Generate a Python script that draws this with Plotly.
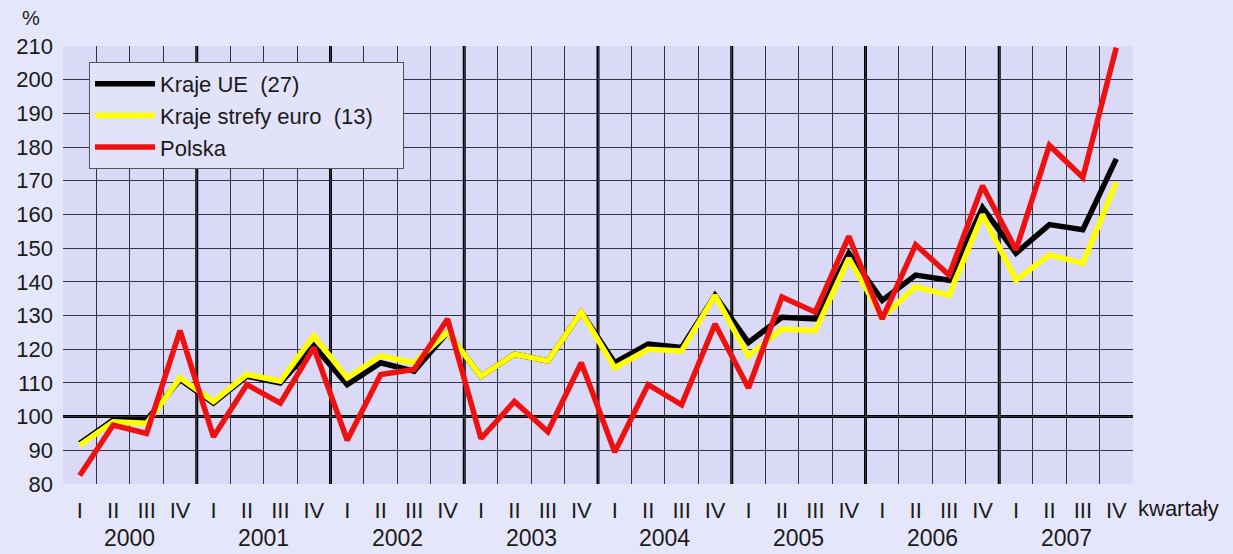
import plotly.graph_objects as go

# Quarterly index values, % (2000 I .. 2007 IV)
years = [2000, 2001, 2002, 2003, 2004, 2005, 2006, 2007]
quarters = ["I", "II", "III", "IV"]

ue27 = [92, 99, 99, 111, 104, 112, 110, 121,
        109.5, 116, 113.5, 125, 112, 118.5, 116.5, 131,
        116, 121.5, 120.5, 136, 122, 129.5, 129, 148.5,
        134.5, 142, 140.5, 162, 148.5, 157, 155.5, 176.5]
euro13 = [91.5, 98.5, 98, 111.5, 104.5, 112.5, 110.5, 124,
          111.5, 118, 116, 125, 112, 118.5, 116.5, 131,
          114.5, 120, 119.5, 136, 118, 126, 125.5, 147,
          129.5, 138.5, 136, 160, 140.5, 148, 145.5, 169.5]
polska = [82.5, 97.5, 95, 125.5, 94, 109.5, 104, 120.5,
          93, 112.5, 114, 129, 93.5, 104.5, 95.5, 116,
          89.5, 109.5, 103.5, 127.5, 108.5, 135.5, 131, 153.5,
          129, 151, 142, 168.5, 149.5, 180.5, 171, 209.5]

series = [
    ("Kraje UE  (27)", ue27, "#000000"),
    ("Kraje strefy euro  (13)", euro13, "#ffff00"),
    ("Polska", polska, "#ee1111"),
]

n = len(years) * len(quarters)
xs = list(range(n))
qlabels = [quarters[i % 4] for i in range(n)]

FONT = "Liberation Sans, Arial, sans-serif"
TXT = "#1a1a1a"

fig = go.Figure()
for name, vals, col in series:
    fig.add_trace(go.Scatter(
        x=xs, y=vals, name=name + "\u00a0\u00a0\u00a0\u00a0", mode="lines",
        line=dict(color=col, width=5.5),
        cliponaxis=True,
    ))

# thick vertical separators between years
shapes = []
for k in range(1, len(years)):
    shapes.append(dict(type="line", xref="x", yref="paper",
                       x0=4 * k - 0.5, x1=4 * k - 0.5, y0=0, y1=1,
                       line=dict(color="#000000", width=3), layer="below"))
# reference level 100
shapes.append(dict(type="line", xref="paper", yref="y",
                   x0=0, x1=1, y0=100, y1=100,
                   line=dict(color="#000000", width=3), layer="below"))

annotations = []
for k, yr in enumerate(years):
    annotations.append(dict(x=4 * k + 1.5, y=0, xref="x", yref="paper",
                            yshift=-54, text=str(yr), showarrow=False,
                            font=dict(size=23, color=TXT, family=FONT),
                            yanchor="middle"))
annotations.append(dict(x=1, y=0, xref="paper", yref="paper",
                        xanchor="left", xshift=3, yshift=-24,
                        text="kwartały", showarrow=False, yanchor="middle",
                        font=dict(size=22, color=TXT, family=FONT)))
annotations.append(dict(x=0, y=1, xref="paper", yref="paper",
                        xanchor="center", xshift=-32, yshift=28,
                        text="%", showarrow=False, yanchor="middle",
                        font=dict(size=20, color=TXT, family=FONT)))

fig.update_layout(
    width=1233, height=554,
    margin=dict(l=63, r=100, t=46, b=70),
    paper_bgcolor="#e6e6fa",
    plot_bgcolor="#dadaf6",
    font=dict(family=FONT, size=22, color=TXT),
    showlegend=True,
    legend=dict(x=0.0243, y=0.9635, xanchor="left", yanchor="top",
                bgcolor="#e2e2f8", bordercolor="#555555", borderwidth=1,
                font=dict(size=22, color=TXT, family=FONT),
                itemwidth=60, tracegroupgap=0),
    shapes=shapes,
    annotations=annotations,
    xaxis=dict(
        range=[-0.5, n - 0.5], tickmode="array", tickvals=xs, ticktext=qlabels,
        showgrid=False, zeroline=False, ticks="", ticklabelstandoff=11,
        tickfont=dict(size=22, color=TXT, family=FONT),
        minor=dict(tickmode="array", tickvals=[i - 0.5 for i in range(n + 1)],
                   showgrid=True, gridcolor="#333344", gridwidth=1.2),
        showline=False, fixedrange=True,
    ),
    yaxis=dict(
        range=[80, 210], tickmode="linear", tick0=80, dtick=10,
        showgrid=True, gridcolor="#333344", gridwidth=1.2, zeroline=False,
        ticks="", ticklabelstandoff=9,
        tickfont=dict(size=22, color=TXT, family=FONT),
        showline=False, fixedrange=True,
    ),
)

fig.write_html("out.html")
